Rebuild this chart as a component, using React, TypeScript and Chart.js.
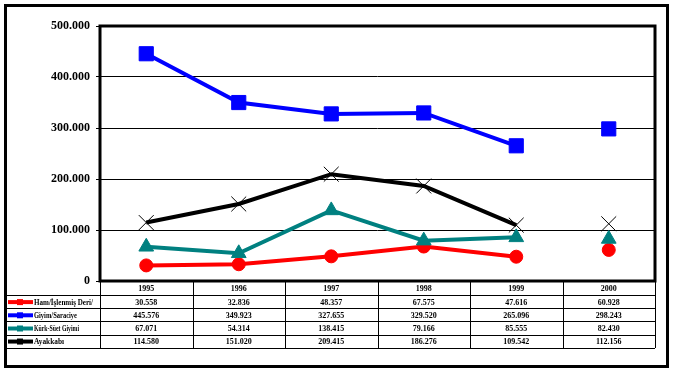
import React, { useEffect, useRef } from "react";
import { Chart, registerables } from "chart.js";

Chart.register(...registerables);

const years = ["1995", "1996", "1997", "1998", "1999", "2000"];
const seriesNames = ["Ham/İşlenmiş Deri/", "Giyim/Saraciye", "Kürk-Süet Giyimi", "Ayakkabı"];
const hamDeri = [30558, 32836, 48357, 67575, 47616, 60928];
const giyim = [445576, 349923, 327655, 329520, 265096, 298243];
const kurk = [67071, 54314, 138415, 79166, 85555, 82430];
const ayakkabi = [114580, 151020, 209415, 186276, 109542, 112156];
const yTicks = [0, 100000, 200000, 300000, 400000, 500000];

const colors = ["#ff0000", "#0000ff", "#008080", "#000000"];
const allSeries = [hamDeri, giyim, kurk, ayakkabi];
const styles = ["circle", "rect", "triangle", "crossRot"];

const fmt = (n: number) => String(n).replace(/\B(?=(\d{3})+(?!\d))/g, ".");

const framePlugin = {
  id: "framePlugin",
  beforeDraw(chart: any) {
    const ctx = chart.ctx;
    ctx.save();
    ctx.fillStyle = "#ffffff";
    ctx.fillRect(0, 0, chart.width, chart.height);
    ctx.restore();
  },
  afterDraw(chart: any) {
    const ctx = chart.ctx;
    const { left, right, top, bottom } = chart.chartArea;
    const xs = chart.scales.x;
    ctx.save();
    // table
    const colW = (right - left) / years.length;
    const rowLines = [295, 308.2, 321.4, 334.6, 347.5];
    ctx.strokeStyle = "#000";
    ctx.lineWidth = 1;
    ctx.beginPath();
    for (const y of rowLines) {
      ctx.moveTo(5, Math.round(y) + 0.5);
      ctx.lineTo(right, Math.round(y) + 0.5);
    }
    for (let k = 0; k <= years.length; k++) {
      const x = Math.round(left + k * colW) + 0.5;
      ctx.moveTo(x, bottom);
      ctx.lineTo(x, rowLines[rowLines.length - 1] + 0.5);
    }
    ctx.stroke();

    ctx.fillStyle = "#000";
    ctx.font = 'bold 8px "Liberation Serif"';
    ctx.textAlign = "center";
    ctx.textBaseline = "middle";
    years.forEach((yr, i) => {
      ctx.fillText(yr, xs.getPixelForValue(i), (bottom + rowLines[0]) / 2 + 1);
    });
    allSeries.forEach((arr, r) => {
      const cy = (rowLines[r] + rowLines[r + 1]) / 2 + 1;
      arr.forEach((v, i) => {
        ctx.fillText(fmt(v), xs.getPixelForValue(i), cy);
      });
    });
    // legend labels
    ctx.textAlign = "left";
    const maxW = [59, 43, 45, 30];
    seriesNames.forEach((name, r) => {
      const cy = (rowLines[r] + rowLines[r + 1]) / 2 + 0.5;
      ctx.strokeStyle = colors[r];
      ctx.lineWidth = 4;
      ctx.beginPath();
      ctx.moveTo(8, cy);
      ctx.lineTo(33, cy);
      ctx.stroke();
      ctx.fillStyle = colors[r];
      ctx.fillRect(17, cy - 3, 6, 6);
      ctx.fillStyle = "#000";
      ctx.font = 'bold 8px "Liberation Serif"';
      ctx.fillText(name, 34, cy + 0.5, maxW[r]);
    });

    // plot border
    ctx.strokeStyle = "#000";
    ctx.lineWidth = 3;
    ctx.strokeRect(left, top, right - left, bottom - top);
    // outer frame
    ctx.strokeRect(5.5, 5.5, 662, 361);
    ctx.restore();
  },
};

export default function App() {
  const ref = useRef<HTMLCanvasElement>(null);
  useEffect(() => {
    if (!ref.current) return;
    const datasets = allSeries.map((arr, i) => ({
      label: seriesNames[i],
      data: arr,
      borderColor: colors[i],
      backgroundColor: colors[i],
      pointBackgroundColor: colors[i],
      pointBorderColor: colors[i],
      borderWidth: 4,
      pointStyle: styles[i],
      pointRadius: [6.5, 10, 8.5, 10.5][i],
      pointBorderWidth: 1,
      tension: 0,
      order: [2, 3, 1, 0][i],
      segment: {
        borderColor: (c: any) => (c.p1DataIndex === 5 ? "rgba(0,0,0,0)" : colors[i]),
      },
    }));
    const chart = new Chart(ref.current, {
      type: "line",
      data: { labels: years, datasets },
      options: {
        animation: false,
        responsive: false,
        devicePixelRatio: 1,
        layout: { padding: { left: 0, top: 26, right: 18, bottom: 91 } },
        plugins: { legend: { display: false }, tooltip: { enabled: false } },
        scales: {
          x: {
            type: "category",
            offset: true,
            ticks: { display: false },
            grid: { display: false },
            border: { display: false },
            afterFit: (s: any) => {
              s.height = 0;
            },
          },
          y: {
            min: 0,
            max: 500000,
            afterBuildTicks: (s: any) => {
              s.ticks = yTicks.map((v) => ({ value: v }));
            },
            ticks: {
              color: "#000",
              padding: 6,
              font: { family: "Liberation Serif", size: 12, weight: "bold" },
              callback: (v: any) => fmt(Number(v)),
            },
            grid: { color: "#000", lineWidth: 1, tickLength: 4, drawTicks: true },
            border: { display: false },
            afterFit: (s: any) => {
              s.width = 100;
            },
          },
        },
      },
      plugins: [framePlugin],
    } as any);
    return () => chart.destroy();
  }, []);
  return (
    <div style={{ position: "fixed", left: 0, top: 0, width: 673, height: 372, background: "#fff" }}>
      <canvas ref={ref} width={673} height={372} style={{ width: 673, height: 372 }} />
    </div>
  );
}
